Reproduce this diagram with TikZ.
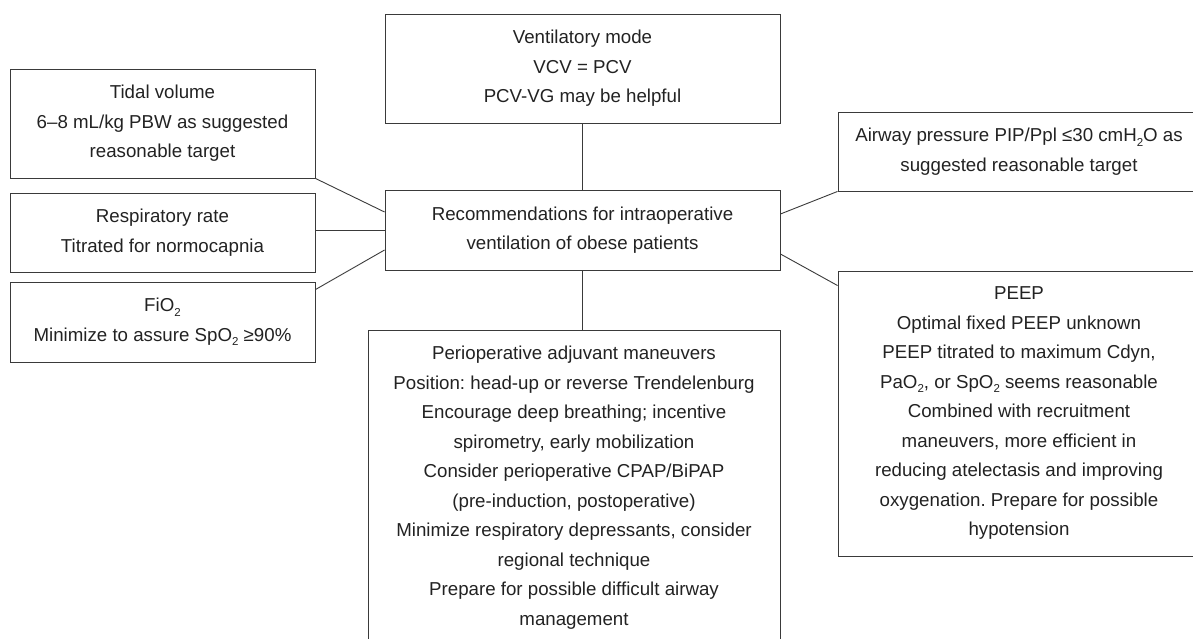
\documentclass[tikz,border=0pt]{standalone}
\usepackage{fontspec}
\setmainfont{Liberation Sans}
\frenchspacing
\definecolor{linec}{HTML}{3A3A3A}
\definecolor{textc}{HTML}{222222}
\newcommand{\subtwo}{\raisebox{-0.45ex}{\fontsize{11.5}{11.5}\selectfont 2}}
\begin{document}
\begin{tikzpicture}[x=1pt,y=-1pt,
  box/.style={draw=linec, line width=0.9pt, rectangle, inner sep=0pt, align=center,
    text=textc, font=\fontsize{18.7}{29.5}\selectfont},
  conn/.style={draw=linec, line width=0.9pt}]
\useasboundingbox (0,0) rectangle (1193,639);
\begin{scope}
\clip (0,0) rectangle (1193,639);
% top box
\node[box, minimum width=395pt, minimum height=109pt] (vent) at (582.5,68.5)
  {Ventilatory mode\\VCV = PCV\\PCV-VG may be helpful};
% centre box
\node[box, minimum width=395pt, minimum height=80pt] (center) at (582.5,230)
  {Recommendations for intraoperative\\ventilation of obese patients};
% left boxes
\node[box, minimum width=305pt, minimum height=109pt] (tidal) at (162.5,123.5)
  {Tidal volume\\6–8 mL/kg PBW as suggested\\reasonable target};
\node[box, minimum width=305pt, minimum height=79pt] (resp) at (162.5,232.5)
  {Respiratory rate\\Titrated for normocapnia};
\node[box, minimum width=305pt, minimum height=80pt] (fio) at (162.5,322)
  {FiO\subtwo\\Minimize to assure SpO\subtwo{} ≥90\%};
% right boxes
\node[box, minimum width=362pt, minimum height=79pt] (airway) at (1019,151.5)
  {Airway pressure PIP/Ppl ≤30 cmH\subtwo O as\\suggested reasonable target};
\node[box, minimum width=362pt, minimum height=285pt] (peep) at (1019,413.5)
  {PEEP\\Optimal fixed PEEP unknown\\PEEP titrated to maximum Cdyn,\\PaO\subtwo, or SpO\subtwo{} seems reasonable\\Combined with recruitment\\maneuvers, more efficient in\\reducing atelectasis and improving\\oxygenation. Prepare for possible\\hypotension};
% bottom box
\node[box, minimum width=412pt, minimum height=315pt] (bottom) at (574,487.5)
  {Perioperative adjuvant maneuvers\\Position: head-up or reverse Trendelenburg\\Encourage deep breathing; incentive\\spirometry, early mobilization\\Consider perioperative CPAP/BiPAP\\(pre-induction, postoperative)\\Minimize respiratory depressants, consider\\regional technique\\Prepare for possible difficult airway\\management};
% connectors
\draw[conn] (vent.south) -- (center.north);
\draw[conn] (center.south) -- (center.south |- bottom.north);
\draw[conn] (tidal.south east) -- ([yshift=18pt]center.west);
\draw[conn] (resp.east |- center.west) -- (center.west);
\draw[conn] ([yshift=-8pt]fio.north east) -- ([yshift=-20pt]center.west);
\draw[conn] ([yshift=16pt]center.east) -- (airway.south west);
\draw[conn] ([yshift=-24pt]center.east) -- ([yshift=-15pt]peep.north west);
\end{scope}
\end{tikzpicture}
\end{document}
